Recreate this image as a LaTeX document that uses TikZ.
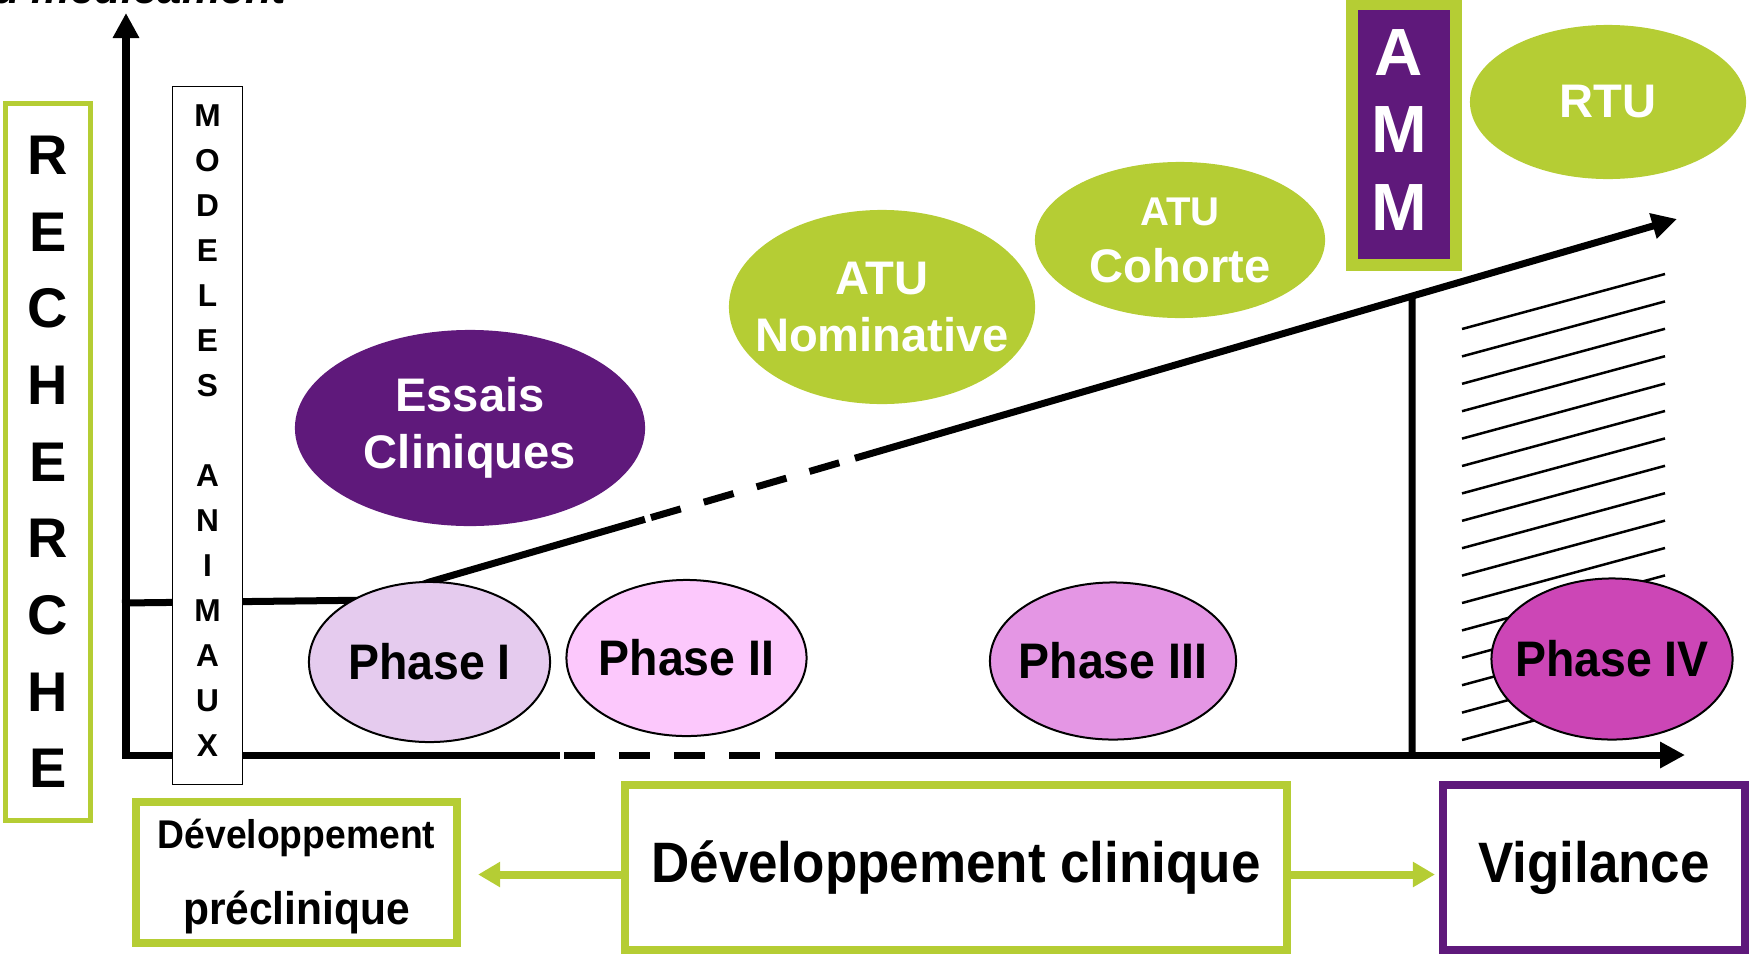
\documentclass[tikz,border=0pt]{standalone}
\usepackage{fontspec}
\setmainfont{Liberation Sans}
\newfontfamily\condf[FakeStretch=0.93]{Liberation Sans}
\usetikzlibrary{shapes.geometric,arrows.meta,calc}
\definecolor{lgreen}{RGB}{181,205,52}
\definecolor{dpurple}{RGB}{95,25,123}
\definecolor{ph1}{RGB}{229,203,238}
\definecolor{ph2}{RGB}{252,200,252}
\definecolor{ph3}{RGB}{228,150,228}
\definecolor{ph4}{RGB}{204,70,182}
\begin{document}
\begin{tikzpicture}[x=0.01cm,y=-0.01cm,
  thickline/.style={line width=0.07cm},
  axisarrow/.style={line width=0.07cm,-{Triangle[length=0.25cm,width=0.25cm]}},
  dashseg/.style={line width=0.07cm,dash pattern=on 0.31cm off 0.24cm},
  hatchline/.style={line width=0.025cm},
  blob/.style={ellipse,inner sep=0pt},
  blobtext/.style={text=white,align=center,inner sep=0pt,font=\bfseries\fontsize{13.4pt}{16.2pt}\selectfont},
  phase/.style={ellipse,draw=black,line width=0.02cm,inner sep=0pt},
  phasetext/.style={inner sep=0pt,font=\condf\bfseries\fontsize{14.2pt}{17pt}\selectfont},
  gbox/.style={draw=lgreen,line width=0.08cm,inner sep=0pt},
  boxtext/.style={font=\condf\bfseries\fontsize{16.2pt}{19pt}\selectfont},
  garrow/.style={draw=lgreen,line width=0.08cm,-{Triangle[length=0.22cm,width=0.24cm]}}
]
\useasboundingbox (0,0) rectangle (1749,954);
\clip (0,0) rectangle (1749,954);

\node[anchor=base east,inner sep=0pt,font=\bfseries\itshape\fontsize{12.4pt}{14pt}\selectfont] (title) at (287,3) {du médicament};

% hatching
\foreach \i in {0,...,15} \draw[hatchline] (1462,{329+27.4*\i}) -- (1665,{274+27.4*\i});

% key points
\coordinate (Ybot) at (126,758);
\coordinate (Ytop) at (126,13);
\coordinate (X0) at (122,755);
\coordinate (Xa) at (560,755);
\coordinate (Xb) at (564,755);
\coordinate (Xc) at (775,755);
\coordinate (Xend) at (1685,755);
\coordinate (H0) at (122,603);
\coordinate (H1) at (380,600);
\coordinate (P1top) at (429.5,582);
\coordinate (Rtip) at (1677,219);
\coordinate (Ra) at ($(P1top)!0.1727!(Rtip)$);
\coordinate (Rb) at ($(P1top)!0.1775!(Rtip)$);
\coordinate (Rc) at ($(P1top)!0.3355!(Rtip)$);
\coordinate (Rd) at ($(P1top)!0.341!(Rtip)$);
\coordinate (Vbot) at (1412,755);
\coordinate (Vtop) at ($(P1top)!0.7876!(Rtip)$);

% axes and lines
\draw[axisarrow] (Ybot) -- (Ytop);
\draw[thickline] (X0) -- (Xa);
\draw[dashseg] (Xb) -- (Xc);
\draw[axisarrow] (Xc) -- (Xend);
\draw[thickline,line join=round] (H0) -- (H1) -- (P1top) -- (Ra);
\draw[dashseg] (Rb) -- (Rc);
\draw[axisarrow] (Rd) -- (Rtip);
\draw[line width=0.07cm] (Vbot) -- (Vtop);

% left boxes
\node[draw=lgreen,line width=0.05cm,minimum width=0.85cm,minimum height=7.17cm,inner sep=0pt,align=center,font=\bfseries\fontsize{15.9pt}{21.8pt}\selectfont] (rech) at (48,462) {R\\E\\C\\H\\E\\R\\C\\H\\E};
\node[draw=black,fill=white,line width=0.015cm,minimum width=0.695cm,minimum height=6.975cm,inner sep=0pt] (mod) at (207.5,435.5) {};
\node[align=center,inner sep=0pt,font=\bfseries\fontsize{9pt}{12.8pt}\selectfont] (modT) at (207.5,430.5) {M\\O\\D\\E\\L\\E\\S\\[12.8pt]A\\N\\I\\M\\A\\U\\X};

% coloured ellipses
\node[blob,fill=dpurple,minimum width=3.5cm,minimum height=1.96cm] (essais) at (470,428) {};
\node[blobtext] (essaisT) at (essais) {Essais\\Cliniques};
\node[blob,fill=lgreen,minimum width=3.06cm,minimum height=1.94cm] (atun) at (882,307) {};
\node[blobtext] (atunT) at (atun) {ATU\\Nominative};
\node[blob,fill=lgreen,minimum width=2.9cm,minimum height=1.56cm] (atuc) at (1180,240) {};
\node[blobtext] (atucT) at (atuc) {{\fontsize{11.4pt}{16.2pt}\selectfont ATU}\\Cohorte};
\node[blob,fill=lgreen,minimum width=2.76cm,minimum height=1.54cm] (rtu) at (1608,102) {};
\node[blobtext] (rtuT) at (rtu) {RTU};

% AMM
\node[fill=dpurple,draw=lgreen,line width=0.12cm,minimum width=1.04cm,minimum height=2.61cm,inner sep=0pt] (amm) at (1404,134.5) {};
\node[align=center,text=white,inner sep=0pt,font=\bfseries\fontsize{19pt}{21.9pt}\selectfont] (ammT) at (1399,130) {A\\M\\M};

% phases
\node[phase,fill=ph1,minimum width=2.41cm,minimum height=1.6cm] (p1) at (429.5,662) {};
\node[phasetext] (p1T) at (p1) {Phase I};
\node[phase,fill=ph2,minimum width=2.4cm,minimum height=1.56cm] (p2) at (686.5,658) {};
\node[phasetext] (p2T) at (p2) {Phase II};
\node[phase,fill=ph3,minimum width=2.46cm,minimum height=1.57cm] (p3) at (1113,661) {};
\node[phasetext] (p3T) at (p3) {Phase III};
\node[phase,fill=ph4,minimum width=2.41cm,minimum height=1.61cm] (p4) at (1612,659) {};
\node[phasetext] (p4T) at (p4) {Phase IV};

% bottom boxes
\node[gbox,minimum width=3.21cm,minimum height=1.41cm] (precl) at (296.5,872.5) {};
\node[anchor=base,inner sep=0pt,font=\condf\bfseries\fontsize{11.4pt}{13pt}\selectfont] (preclA) at (296.5,848) {Développement};
\node[anchor=base,inner sep=0pt,font=\condf\bfseries\fontsize{13pt}{15pt}\selectfont] (preclB) at (296.5,924) {préclinique};
\node[gbox,boxtext,minimum width=6.62cm,minimum height=1.65cm] (clin) at (956,867.5) {Développement clinique};
\node[draw=dpurple,line width=0.08cm,inner sep=0pt,boxtext,minimum width=3.02cm,minimum height=1.65cm] (vig) at (1594,867.5) {Vigilance};

\coordinate (aL) at ([yshift=-0.07cm]clin.west);
\coordinate (aR) at ([yshift=-0.07cm]clin.east);
\draw[garrow,shorten >=0.17cm] (aL) -- (aL -| precl.east);
\draw[garrow,shorten >=0.04cm] (aR) -- (aR -| vig.west);
\end{tikzpicture}
\end{document}
